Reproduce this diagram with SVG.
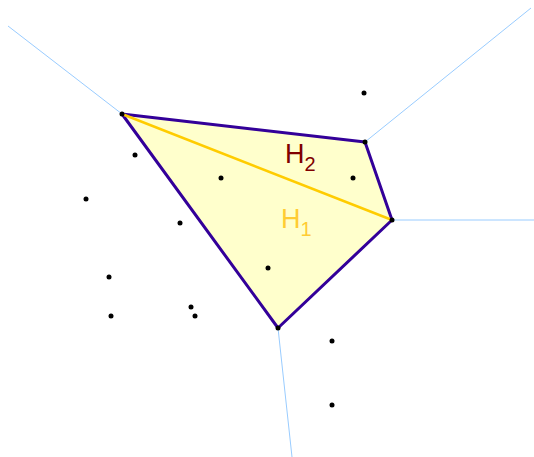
<svg xmlns="http://www.w3.org/2000/svg" width="534" height="457" viewBox="0 0 534 457">
<style>
.vor{stroke:#99ccff;stroke-width:1;fill:none}
.pt{fill:#000}
.lbl{font-family:"Liberation Sans",Arial,sans-serif;font-size:27px}
.sub{font-size:20px}
</style>
<rect width="534" height="457" fill="#fff"/>
<g id="connectors">
<line class="vor" x1="122" y1="114" x2="8" y2="26"/>
<line class="vor" x1="365" y1="142" x2="531" y2="8"/>
<line class="vor" x1="392" y1="220" x2="534" y2="220"/>
<line class="vor" x1="278" y1="328" x2="292" y2="457"/>
</g>
<g id="hull">
<polygon points="122,114 365,142 392,220 278,328" fill="#ffffcc" stroke="#330099" stroke-width="3" stroke-linejoin="round"/>
<line x1="122" y1="114" x2="392" y2="220" stroke="#ffcc00" stroke-width="2.5"/>
<circle cx="122" cy="114" r="2.5" fill="#000"/>
<circle cx="365" cy="142" r="2.5" fill="#000"/>
<circle cx="392" cy="220" r="2.5" fill="#000"/>
<circle cx="278" cy="328" r="2.5" fill="#000"/>
</g>
<g id="points">
<circle class="pt" cx="364" cy="93" r="2.5"/>
<circle class="pt" cx="135" cy="155" r="2.5"/>
<circle class="pt" cx="221" cy="178" r="2.5"/>
<circle class="pt" cx="353" cy="178" r="2.5"/>
<circle class="pt" cx="86" cy="199" r="2.5"/>
<circle class="pt" cx="180" cy="223" r="2.5"/>
<circle class="pt" cx="109" cy="277" r="2.5"/>
<circle class="pt" cx="268" cy="268" r="2.5"/>
<circle class="pt" cx="111" cy="316" r="2.5"/>
<circle class="pt" cx="191" cy="307" r="2.5"/>
<circle class="pt" cx="195" cy="316" r="2.5"/>
<circle class="pt" cx="332" cy="341" r="2.5"/>
<circle class="pt" cx="332" cy="405" r="2.5"/>
</g>
<g id="label-H2">
<text class="lbl" x="285" y="163" fill="#800000">H<tspan class="sub" dy="8">2</tspan></text>
</g>
<g id="label-H1">
<text class="lbl" x="281" y="228" fill="#ffcc33">H<tspan class="sub" dy="8">1</tspan></text>
</g>
</svg>
